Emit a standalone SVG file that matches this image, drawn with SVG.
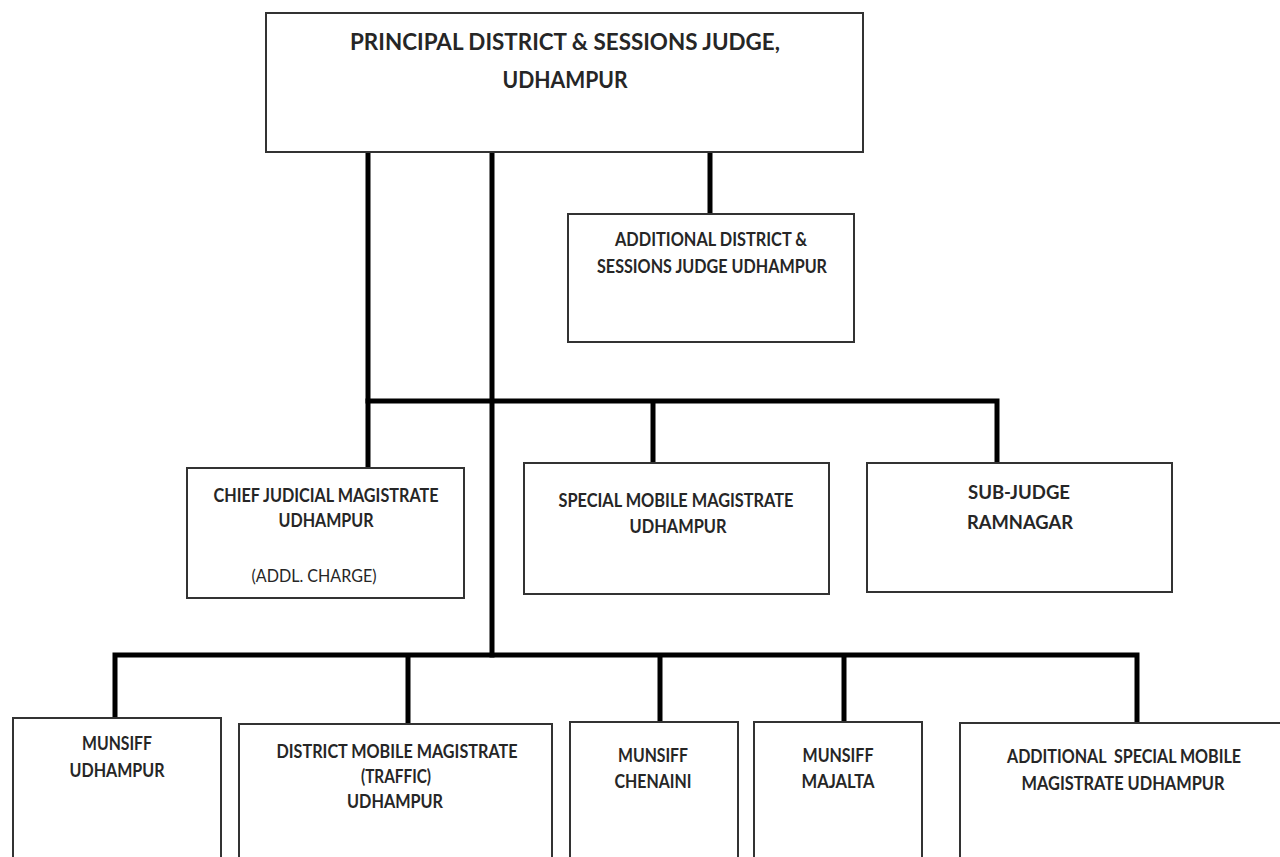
<svg xmlns="http://www.w3.org/2000/svg" width="1280" height="857" viewBox="0 0 1280 857">
<style>
.box{fill:#fff;stroke:#333;stroke-width:2}
.ln{stroke:#000;stroke-width:5;fill:none;stroke-linecap:square}
.t{font-family:Lato,"Open Sans","Liberation Sans",sans-serif;font-weight:bold;fill:#262626;text-anchor:middle;font-size:18px}
.big{font-size:23px}
.mid{font-size:19px}
.reg{font-weight:normal}
</style>
<rect width="1280" height="857" fill="#fff"/>
<g id="connectors">
<path class="ln" d="M368 152V468M492 152V655M710 152V214"/>
<path class="ln" d="M368 401H997M653 401V463M997 401V463"/>
<path class="ln" d="M115 655H1137M115 655V718M408 655V724M660 655V722M844 655V722M1137 655V723"/>
</g>
<g id="pdsj">
<rect class="box" x="266" y="13" width="597" height="139"/>
<text class="t big" x="565" y="50" textLength="430" lengthAdjust="spacingAndGlyphs">PRINCIPAL DISTRICT &amp; SESSIONS JUDGE,</text>
<text class="t big" x="565" y="88" textLength="125" lengthAdjust="spacingAndGlyphs">UDHAMPUR</text>
</g>
<g id="adsj">
<rect class="box" x="568" y="214" width="286" height="128"/>
<text class="t" x="711" y="246" textLength="192" lengthAdjust="spacingAndGlyphs">ADDITIONAL DISTRICT &amp;</text>
<text class="t" x="712" y="273" textLength="230" lengthAdjust="spacingAndGlyphs">SESSIONS JUDGE UDHAMPUR</text>
</g>
<g id="cjm">
<rect class="box" x="187" y="468" width="277" height="130"/>
<text class="t" x="326" y="502" textLength="225" lengthAdjust="spacingAndGlyphs">CHIEF JUDICIAL MAGISTRATE</text>
<text class="t" x="326" y="527" textLength="95" lengthAdjust="spacingAndGlyphs">UDHAMPUR</text>
<text class="t reg" x="314" y="582" textLength="125" lengthAdjust="spacingAndGlyphs">(ADDL. CHARGE)</text>
</g>
<g id="smm">
<rect class="box" x="524" y="463" width="305" height="131"/>
<text class="t" x="676" y="507" textLength="235" lengthAdjust="spacingAndGlyphs">SPECIAL MOBILE MAGISTRATE</text>
<text class="t" x="678" y="533" textLength="97" lengthAdjust="spacingAndGlyphs">UDHAMPUR</text>
</g>
<g id="subjudge">
<rect class="box" x="867" y="463" width="305" height="129"/>
<text class="t mid" x="1019" y="499" textLength="102" lengthAdjust="spacingAndGlyphs">SUB-JUDGE</text>
<text class="t mid" x="1020" y="529" textLength="106" lengthAdjust="spacingAndGlyphs">RAMNAGAR</text>
</g>
<g id="munsiff-udhampur">
<rect class="box" x="13" y="718" width="208" height="160"/>
<text class="t" x="117" y="750" textLength="70" lengthAdjust="spacingAndGlyphs">MUNSIFF</text>
<text class="t" x="117" y="777" textLength="95" lengthAdjust="spacingAndGlyphs">UDHAMPUR</text>
</g>
<g id="dmm">
<rect class="box" x="239" y="724" width="313" height="160"/>
<text class="t" x="397" y="758" textLength="241" lengthAdjust="spacingAndGlyphs">DISTRICT MOBILE MAGISTRATE</text>
<text class="t" x="396" y="783" textLength="70" lengthAdjust="spacingAndGlyphs">(TRAFFIC)</text>
<text class="t" x="395" y="808" textLength="96" lengthAdjust="spacingAndGlyphs">UDHAMPUR</text>
</g>
<g id="munsiff-chenaini">
<rect class="box" x="570" y="722" width="168" height="160"/>
<text class="t" x="653" y="762" textLength="70" lengthAdjust="spacingAndGlyphs">MUNSIFF</text>
<text class="t" x="653" y="788" textLength="77" lengthAdjust="spacingAndGlyphs">CHENAINI</text>
</g>
<g id="munsiff-majalta">
<rect class="box" x="754" y="722" width="168" height="160"/>
<text class="t" x="838" y="762" textLength="71" lengthAdjust="spacingAndGlyphs">MUNSIFF</text>
<text class="t" x="838" y="788" textLength="73" lengthAdjust="spacingAndGlyphs">MAJALTA</text>
</g>
<g id="asmm">
<rect class="box" x="960" y="723" width="340" height="160"/>
<text class="t" x="1124" y="763" textLength="234" lengthAdjust="spacingAndGlyphs">ADDITIONAL&#160; SPECIAL MOBILE</text>
<text class="t" x="1123" y="790" textLength="203" lengthAdjust="spacingAndGlyphs">MAGISTRATE UDHAMPUR</text>
</g>
</svg>
